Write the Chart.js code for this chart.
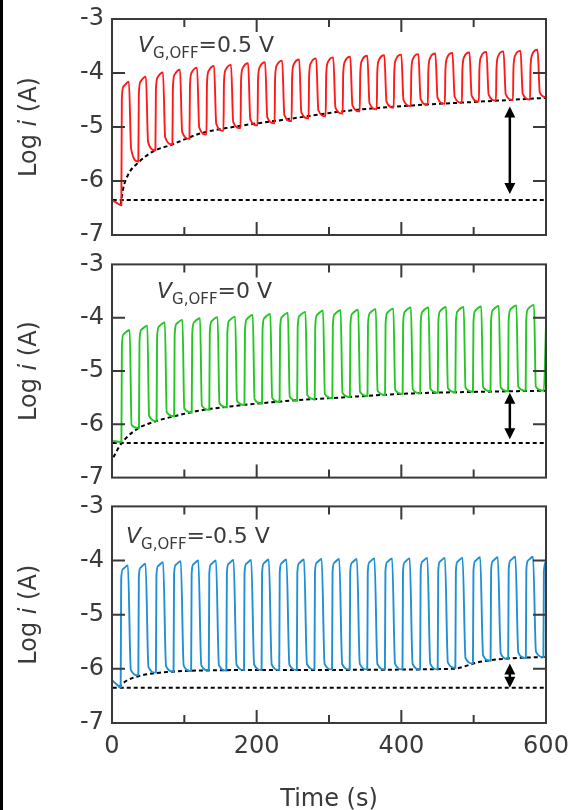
<!DOCTYPE html>
<html lang="ja">
<head>
<meta charset="UTF-8">
<title>Log i - Time</title>
<script src="https://cdn.jsdelivr.net/npm/chart.js"></script>
<style>
  body { margin: 0; background: #fff; }
  .wrap { position: relative; width: 570px; height: 810px; overflow: hidden; }
  .wrap canvas { position: absolute; left: 0; }
  .edge { position: absolute; left: 0; top: 0; width: 3px; height: 810px; background: #000; }
</style>
</head>
<body>
<div class="wrap">
  <canvas id="c1" width="570" height="250" style="top:0px"></canvas>
  <canvas id="c2" width="570" height="242" style="top:250px"></canvas>
  <canvas id="c3" width="570" height="318" style="top:492px"></canvas>
  <div class="edge"></div>
</div>
<script>
// --- data: [time (s), log i (A)] ---
const redTrace = [
  [0,-6.36],[6,-6.40],
  [12.9,-6.45],[13.6,-4.49],[15.9,-4.25],[23.4,-4.16],[26.4,-5.40],
  [36.4,-5.64],[37.1,-4.40],[39.4,-4.16],[46.9,-4.07],[49.9,-5.28],
  [60.0,-5.43],[60.7,-4.32],[63.0,-4.08],[70.5,-3.99],[73.5,-5.19],
  [83.5,-5.32],[84.2,-4.27],[86.5,-4.03],[94.0,-3.94],[97.0,-5.09],
  [107.1,-5.22],[107.8,-4.23],[110.1,-3.99],[117.6,-3.90],[120.6,-5.01],
  [130.6,-5.14],[131.3,-4.20],[133.6,-3.96],[141.1,-3.87],[144.1,-4.94],
  [154.1,-5.07],[154.8,-4.18],[157.1,-3.94],[164.6,-3.85],[167.6,-4.91],
  [177.7,-5.02],[178.4,-4.15],[180.7,-3.91],[188.2,-3.82],[191.2,-4.86],
  [201.2,-4.97],[201.9,-4.13],[204.2,-3.89],[211.7,-3.80],[214.7,-4.82],
  [224.8,-4.93],[225.5,-4.10],[227.8,-3.86],[235.3,-3.77],[238.3,-4.78],
  [248.3,-4.89],[249.0,-4.08],[251.3,-3.84],[258.8,-3.75],[261.8,-4.73],
  [271.8,-4.84],[272.5,-4.06],[274.8,-3.82],[282.3,-3.73],[285.3,-4.69],
  [295.4,-4.80],[296.1,-4.04],[298.4,-3.80],[305.9,-3.71],[308.9,-4.64],
  [318.9,-4.75],[319.6,-4.03],[321.9,-3.79],[329.4,-3.70],[332.4,-4.60],
  [342.5,-4.71],[343.2,-4.01],[345.5,-3.77],[353.0,-3.68],[356.0,-4.56],
  [366.0,-4.67],[366.7,-4.00],[369.0,-3.76],[376.5,-3.67],[379.5,-4.53],
  [389.5,-4.64],[390.2,-3.99],[392.5,-3.75],[400.0,-3.66],[403.0,-4.50],
  [413.1,-4.61],[413.8,-3.98],[416.1,-3.74],[423.6,-3.65],[426.6,-4.48],
  [436.6,-4.59],[437.3,-3.97],[439.6,-3.73],[447.1,-3.64],[450.1,-4.46],
  [460.2,-4.57],[460.9,-3.96],[463.2,-3.72],[470.7,-3.63],[473.7,-4.44],
  [483.7,-4.55],[484.4,-3.95],[486.7,-3.71],[494.2,-3.62],[497.2,-4.42],
  [507.2,-4.53],[507.9,-3.94],[510.2,-3.70],[517.7,-3.61],[520.7,-4.40],
  [530.8,-4.51],[531.5,-3.93],[533.8,-3.69],[541.3,-3.60],[544.3,-4.39],
  [554.3,-4.50],[555.0,-3.92],[557.3,-3.68],[564.8,-3.59],[567.8,-4.38],
  [577.9,-4.49],[578.6,-3.90],[580.9,-3.66],[588.4,-3.57],[591.4,-4.36],
  [600,-4.45]
];
const redEdge = [
  [12,-6.44],[15,-6.17],[22,-5.89],[38,-5.64],[57,-5.45],[82,-5.33],[122,-5.12],
  [167,-5.00],[235,-4.87],[325,-4.70],[416,-4.60],[509,-4.53],[600,-4.46]
];

const greenTrace = [
  [0,-6.31],
  [13.0,-6.33],[13.7,-4.53],[16.0,-4.31],[24.5,-4.23],[27.0,-6.01],
  [37.3,-6.07],[38.0,-4.45],[40.3,-4.23],[48.8,-4.15],[51.3,-5.84],
  [61.6,-5.94],[62.3,-4.39],[64.6,-4.17],[73.1,-4.09],[75.6,-5.77],
  [85.9,-5.85],[86.6,-4.34],[88.9,-4.12],[97.4,-4.04],[99.9,-5.70],
  [110.2,-5.78],[110.9,-4.31],[113.2,-4.09],[121.7,-4.01],[124.2,-5.65],
  [134.5,-5.73],[135.2,-4.29],[137.5,-4.07],[146.0,-3.99],[148.5,-5.60],
  [158.8,-5.68],[159.5,-4.28],[161.8,-4.06],[170.3,-3.98],[172.8,-5.56],
  [183.1,-5.64],[183.8,-4.25],[186.1,-4.03],[194.6,-3.95],[197.1,-5.53],
  [207.4,-5.61],[208.1,-4.23],[210.4,-4.01],[218.9,-3.93],[221.4,-5.50],
  [231.7,-5.58],[232.4,-4.21],[234.7,-3.99],[243.2,-3.91],[245.7,-5.48],
  [256.0,-5.56],[256.7,-4.19],[259.0,-3.97],[267.5,-3.89],[270.0,-5.45],
  [280.3,-5.53],[281.0,-4.17],[283.3,-3.95],[291.8,-3.87],[294.3,-5.43],
  [304.6,-5.51],[305.3,-4.16],[307.6,-3.94],[316.1,-3.86],[318.6,-5.41],
  [328.9,-5.49],[329.6,-4.15],[331.9,-3.93],[340.4,-3.85],[342.9,-5.39],
  [353.2,-5.47],[353.9,-4.14],[356.2,-3.92],[364.7,-3.84],[367.2,-5.37],
  [377.5,-5.45],[378.2,-4.13],[380.5,-3.91],[389.0,-3.83],[391.5,-5.35],
  [401.8,-5.43],[402.5,-4.11],[404.8,-3.89],[413.3,-3.81],[415.8,-5.34],
  [426.1,-5.42],[426.8,-4.11],[429.1,-3.89],[437.6,-3.81],[440.1,-5.33],
  [450.4,-5.41],[451.1,-4.10],[453.4,-3.88],[461.9,-3.80],[464.4,-5.32],
  [474.7,-5.40],[475.4,-4.10],[477.7,-3.88],[486.2,-3.80],[488.7,-5.31],
  [499.0,-5.39],[499.7,-4.09],[502.0,-3.87],[510.5,-3.79],[513.0,-5.30],
  [523.3,-5.38],[524.0,-4.08],[526.3,-3.86],[534.8,-3.78],[537.3,-5.30],
  [547.6,-5.38],[548.3,-4.07],[550.6,-3.85],[559.1,-3.77],[561.6,-5.29],
  [571.9,-5.37],[572.6,-4.06],[574.9,-3.84],[583.4,-3.76],[585.9,-5.29],
  [597.0,-5.37],[600,-4.12]
];
const greenEdge = [
  [2,-6.62],[10,-6.42],[20,-6.25],[37,-6.07],[61,-5.94],[86,-5.85],[122,-5.74],
  [167,-5.66],[235,-5.57],[325,-5.49],[416,-5.42],[509,-5.39],[600,-5.37]
];

const blueTrace = [
  [0,-6.21],[6,-6.28],
  [12.0,-6.34],[12.7,-4.34],[15.0,-4.16],[22.0,-4.09],[26.0,-6.02],
  [36.4,-6.12],[37.1,-4.31],[39.4,-4.13],[46.4,-4.06],[50.4,-5.97],
  [60.7,-6.07],[61.4,-4.28],[63.7,-4.10],[70.7,-4.03],[74.7,-5.95],
  [85.1,-6.05],[85.8,-4.26],[88.1,-4.08],[95.1,-4.01],[99.1,-5.94],
  [109.4,-6.04],[110.1,-4.25],[112.4,-4.07],[119.4,-4.00],[123.4,-5.93],
  [133.8,-6.03],[134.5,-4.25],[136.8,-4.07],[143.8,-4.00],[147.8,-5.93],
  [158.1,-6.03],[158.8,-4.24],[161.1,-4.06],[168.1,-3.99],[172.1,-5.92],
  [182.5,-6.02],[183.2,-4.24],[185.5,-4.06],[192.5,-3.99],[196.5,-5.92],
  [206.8,-6.02],[207.5,-4.23],[209.8,-4.05],[216.8,-3.98],[220.8,-5.92],
  [231.2,-6.02],[231.9,-4.23],[234.2,-4.05],[241.2,-3.98],[245.2,-5.92],
  [255.5,-6.02],[256.2,-4.23],[258.5,-4.05],[265.5,-3.98],[269.5,-5.91],
  [279.9,-6.01],[280.6,-4.22],[282.9,-4.04],[289.9,-3.97],[293.9,-5.91],
  [304.2,-6.01],[304.9,-4.22],[307.2,-4.04],[314.2,-3.97],[318.2,-5.91],
  [328.6,-6.01],[329.3,-4.22],[331.6,-4.04],[338.6,-3.97],[342.6,-5.91],
  [352.9,-6.01],[353.6,-4.21],[355.9,-4.03],[362.9,-3.96],[366.9,-5.91],
  [377.3,-6.01],[378.0,-4.21],[380.3,-4.03],[387.3,-3.96],[391.3,-5.91],
  [401.6,-6.01],[402.3,-4.21],[404.6,-4.03],[411.6,-3.96],[415.6,-5.91],
  [426.0,-6.01],[426.7,-4.20],[429.0,-4.02],[436.0,-3.95],[440.0,-5.91],
  [450.3,-6.01],[451.0,-4.20],[453.3,-4.02],[460.3,-3.95],[464.3,-5.88],
  [474.7,-5.98],[475.4,-4.20],[477.7,-4.02],[484.7,-3.95],[488.7,-5.80],
  [499.0,-5.90],[499.7,-4.19],[502.0,-4.01],[509.0,-3.94],[513.0,-5.75],
  [523.4,-5.85],[524.1,-4.19],[526.4,-4.01],[533.4,-3.94],[537.4,-5.72],
  [547.7,-5.82],[548.4,-4.18],[550.7,-4.00],[557.7,-3.93],[561.7,-5.70],
  [572.1,-5.80],[572.8,-4.18],[575.1,-4.00],[582.1,-3.93],[586.1,-5.68],
  [596.4,-5.78],[597.1,-4.20],[600,-4.02]
];
const blueEdge = [
  [9,-6.34],[20,-6.22],[38,-6.13],[66,-6.07],[122,-6.03],[250,-6.02],
  [470,-6.00],[509,-5.87],[546,-5.81],[600,-5.78]
];

const baseLevel = -6.35;
const baseSpan = [1, 600];
const offVoltages = ['0.5', '0', '-0.5'];
const arrowTime = 550;
const arrowTop = [-4.62, -5.41, -5.90];
const arrowBottom = [-6.24, -6.28, -6.35];
const yMarks = [-6, -5, -4];
const xMajorMarks = [200, 400];
const xMinorMarks = [100, 300, 500];

const FONT = '"DejaVu Sans", sans-serif';
const INK = '#3a3a3a';
Chart.defaults.font.family = FONT;

// frame, inward ticks, label, arrow, y title
const decor = {
  id: 'decor',
  afterDatasetsDraw(chart, args, o) {
    const ctx = chart.ctx;
    const { left, right, top, bottom } = chart.chartArea;
    const x = chart.scales.x, y = chart.scales.y;
    ctx.save();
    ctx.strokeStyle = INK;
    ctx.lineWidth = 2;
    ctx.beginPath();
    yMarks.forEach(v => {
      const py = y.getPixelForValue(v);
      ctx.moveTo(left, py); ctx.lineTo(left + 13, py);
      ctx.moveTo(right, py); ctx.lineTo(right - 13, py);
    });
    xMajorMarks.forEach(v => {
      const px = x.getPixelForValue(v);
      ctx.moveTo(px, top); ctx.lineTo(px, top + 13);
      ctx.moveTo(px, bottom); ctx.lineTo(px, bottom - 13);
    });
    xMinorMarks.forEach(v => {
      const px = x.getPixelForValue(v);
      ctx.moveTo(px, top); ctx.lineTo(px, top + 8);
      ctx.moveTo(px, bottom); ctx.lineTo(px, bottom - 8);
    });
    ctx.stroke();
    ctx.strokeRect(left, top, right - left, bottom - top);

    // double arrow
    const ax = x.getPixelForValue(arrowTime);
    const y1 = y.getPixelForValue(arrowTop[o.idx]);
    const y2 = y.getPixelForValue(arrowBottom[o.idx]);
    const hl = 11, hw = 5.5;
    ctx.fillStyle = '#000';
    ctx.strokeStyle = '#000';
    ctx.lineWidth = 2.5;
    if (y2 - y1 > 2 * hl) {
      ctx.beginPath();
      ctx.moveTo(ax, y1 + hl - 1); ctx.lineTo(ax, y2 - hl + 1);
      ctx.stroke();
    }
    ctx.beginPath();
    ctx.moveTo(ax, y1); ctx.lineTo(ax - hw, y1 + hl); ctx.lineTo(ax + hw, y1 + hl); ctx.closePath();
    ctx.moveTo(ax, y2); ctx.lineTo(ax - hw, y2 - hl); ctx.lineTo(ax + hw, y2 - hl); ctx.closePath();
    ctx.fill();

    // V_G,OFF label
    ctx.fillStyle = INK;
    ctx.textBaseline = 'alphabetic';
    ctx.textAlign = 'left';
    let lx = left + o.lx, ly = top + o.ly;
    ctx.font = 'italic 22px ' + FONT;
    ctx.fillText('V', lx, ly);
    lx += ctx.measureText('V').width;
    ctx.font = '15px ' + FONT;
    ctx.fillText('G,OFF', lx, ly + 6);
    lx += ctx.measureText('G,OFF').width;
    ctx.font = '22px ' + FONT;
    ctx.fillText('=' + offVoltages[o.idx] + ' V', lx, ly);

    // y title
    ctx.translate(30, (top + bottom) / 2);
    ctx.rotate(-Math.PI / 2);
    ctx.textBaseline = 'middle';
    const parts = [['Log ', ''], ['i', 'italic '], [' (A)', '']];
    let total = 0;
    parts.forEach(p => { ctx.font = p[1] + '24px ' + FONT; total += ctx.measureText(p[0]).width; });
    let tx = -total / 2;
    parts.forEach(p => {
      ctx.font = p[1] + '24px ' + FONT;
      ctx.fillText(p[0], tx, 0);
      tx += ctx.measureText(p[0]).width;
    });
    ctx.restore();
  }
};

function toXY(arr) { return arr.map(p => ({ x: p[0], y: p[1] })); }

function makePanel(id, idx, trace, edge, color, pad, label, bottomAxis) {
  new Chart(document.getElementById(id), {
    type: 'line',
    data: {
      datasets: [
        { data: toXY(trace), borderColor: color, borderWidth: 1.9, cubicInterpolationMode: 'monotone' },
        { data: toXY(edge), borderColor: '#000', borderWidth: 2, borderDash: [4, 3], cubicInterpolationMode: 'monotone' },
        { data: baseSpan.map(t => ({ x: t, y: baseLevel })), borderColor: '#000', borderWidth: 2, borderDash: [4, 3] }
      ]
    },
    options: {
      responsive: false,
      animation: false,
      events: [],
      elements: { point: { radius: 0 } },
      layout: { padding: pad },
      plugins: { legend: { display: false }, tooltip: { enabled: false },
                 decor: { idx: idx, lx: label[0], ly: label[1] } },
      scales: {
        x: {
          type: 'linear', min: 0, max: 600, display: bottomAxis,
          grid: { display: false }, border: { display: false },
          ticks: { stepSize: 200, color: INK, font: { size: 24 }, padding: 1, maxRotation: 0, autoSkip: false },
          title: { display: true, text: 'Time (s)', color: INK, font: { size: 24 }, padding: { top: 0, bottom: -4 } },
          afterFit: s => { s.height = bottomAxis ? 87 : 0; }
        },
        y: {
          type: 'linear', min: -7, max: -3,
          grid: { display: false }, border: { display: false },
          ticks: { stepSize: 1, color: INK, font: { size: 24 }, padding: 0, autoSkip: false },
          afterFit: s => { s.width = 112; }
        }
      }
    },
    plugins: [decor]
  });
}

makePanel('c1', 0, redTrace, redEdge, '#ff1a1a', { top: 19, bottom: 15, left: 0, right: 24 }, [26, 33], false);
makePanel('c2', 1, greenTrace, greenEdge, '#22c722', { top: 13, bottom: 13, left: 0, right: 24 }, [45, 34], false);
makePanel('c3', 2, blueTrace, blueEdge, '#1f8fd6', { top: 14, bottom: 0, left: 0, right: 24 }, [14, 37], true);
</script>
</body>
</html>
